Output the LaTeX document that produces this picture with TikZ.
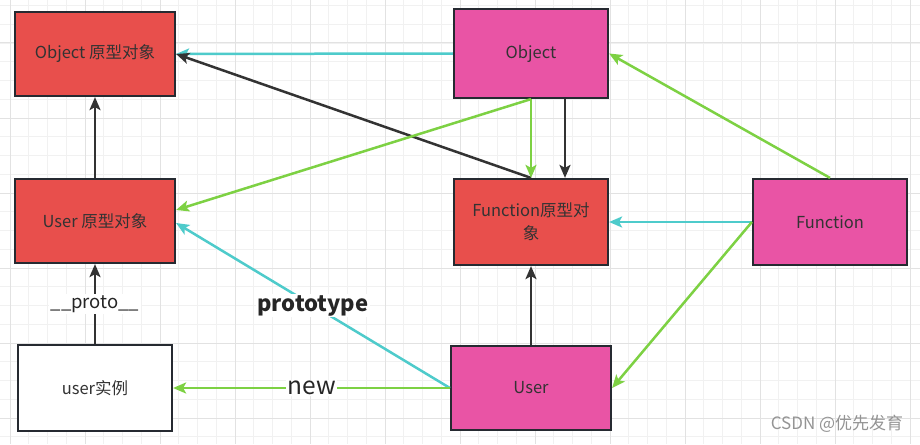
\documentclass[tikz,border=0pt]{standalone}
\usepackage{fontspec}
\setmainfont{Noto Sans CJK SC}
\usetikzlibrary{arrows.meta,calc}
\definecolor{boxred}{HTML}{E84F4C}
\definecolor{boxpink}{HTML}{E954A5}
\definecolor{bordc}{HTML}{262A31}
\definecolor{txtc}{HTML}{333333}
\definecolor{cyanl}{HTML}{4ECBCB}
\definecolor{greenl}{HTML}{7DD143}
\definecolor{blackl}{HTML}{333333}
\definecolor{gridminor}{HTML}{F1F1F1}
\definecolor{gridmajor}{HTML}{E2E2E2}
\begin{document}
\begin{tikzpicture}[x=1pt,y=-1pt,
  box/.style={draw=bordc, line width=2.2pt, inner sep=0pt, text=txtc, align=center,
    font=\fontsize{16.5}{23}\selectfont},
  redbox/.style={box, fill=boxred},
  pinkbox/.style={box, fill=boxpink},
  whitebox/.style={box, fill=white},
  conn/.style={line width=2.5pt, -{Stealth[length=13pt,width=11pt,inset=3pt]}},
  cy/.style={conn, draw=cyanl, fill=cyanl},
  gr/.style={conn, draw=greenl, fill=greenl},
  bk/.style={conn, draw=blackl, fill=blackl},
  lab/.style={fill=white, inner sep=1.5pt, text=black!85}
]
\useasboundingbox (0,0) rectangle (920,444);
\fill[white] (0,0) rectangle (920,444);
% grid
\foreach \i in {0,...,50} {
  \draw[gridminor, line width=0.8pt] ({-8.75+18.75*\i},0) -- ({-8.75+18.75*\i},444);
}
\foreach \k in {0,...,24} {
  \draw[gridminor, line width=0.8pt] (0,{-13.25+18.75*\k}) -- (920,{-13.25+18.75*\k});
}
\foreach \m in {0,...,12} {
  \draw[gridmajor, line width=1pt] ({10+75*\m},0) -- ({10+75*\m},444);
}
\foreach \m in {0,...,5} {
  \draw[gridmajor, line width=1pt] (0,{43+75*\m}) -- (920,{43+75*\m});
}
% nodes
\node[redbox, minimum width=160pt, minimum height=84pt] (objp) at (95,54) {Object 原型对象};
\node[redbox, minimum width=160pt, minimum height=84pt] (userp) at (95,221) {User 原型对象};
\node[whitebox, minimum width=154pt, minimum height=86pt] (inst) at (95,388) {user实例};
\node[pinkbox, minimum width=154pt, minimum height=89pt] (obj) at (531,53.5) {Object};
\node[redbox, minimum width=154pt, minimum height=86pt] (funcp) at (531,222) {Function原型对\\象};
\node[pinkbox, minimum width=154pt, minimum height=86pt] (func) at (830,222) {Function};
\node[pinkbox, minimum width=160pt, minimum height=84pt] (user) at (531,388) {User};
% connectors
\draw[cy] (obj.west) -- (objp.east);
\draw[bk] (funcp.north) -- (objp.east);
\draw[gr] (obj.south) -- ([yshift=11pt]userp.east);
\draw[gr] (obj.south) -- (funcp.north);
\draw[bk] ([xshift=34pt]obj.south) -- ([xshift=34pt]funcp.north);
\draw[gr] (func.north) -- (obj.east);
\draw[cy] (func.west) -- (funcp.east);
\draw[gr] (func.west) -- (user.east);
\draw[bk] (user.north) -- (funcp.south);
\draw[cy] (user.west) -- node[lab, font=\fontsize{22}{26}\selectfont\bfseries, text=black!85] (lproto) {prototype} ([yshift=-2pt]userp.east);
\draw[gr] (user.west) -- node[lab, font=\fontsize{24.5}{28}\selectfont] (lnew) {new} (inst.east);
\draw[bk] (inst.north) -- node[lab, font=\fontsize{18.5}{22}\selectfont] (lp) {\_\_proto\_\_} (userp.south);
\draw[bk] (userp.north) -- (objp.south);
% watermark
\node[text=black!42, font=\fontsize{17}{20}\selectfont] (wm) at (837,424) {CSDN @优先发育};
\end{tikzpicture}
\end{document}
